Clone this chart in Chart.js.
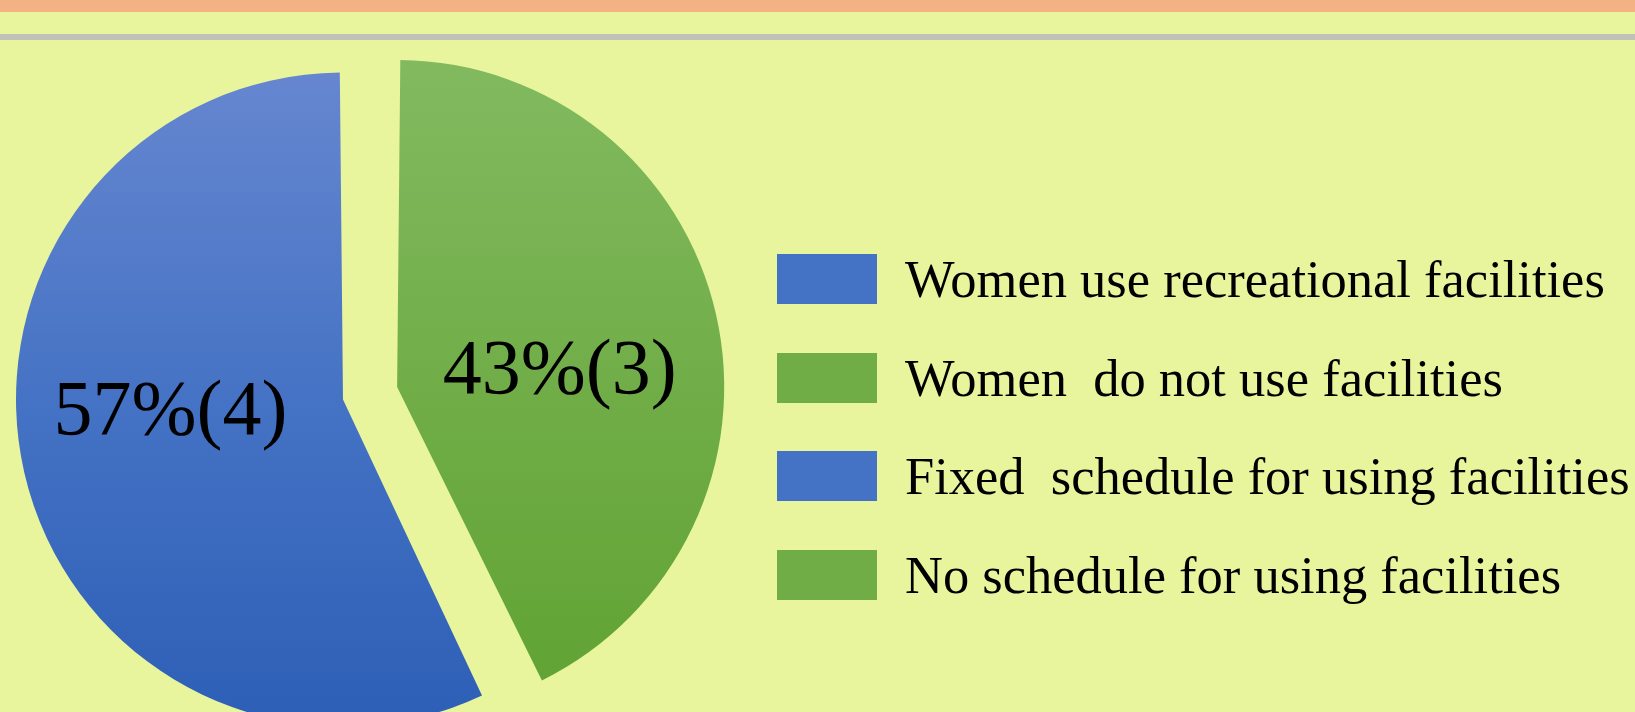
<!DOCTYPE html>
<html lang="en">
<head>
    <meta charset="UTF-8">
    <title>Women and recreational facilities</title>
    <script src="https://cdn.jsdelivr.net/npm/chart.js"></script>
    <style>
        html, body { margin: 0; padding: 0; }
        body { width: 1635px; height: 712px; overflow: hidden; position: relative; background: #E9F59D; font-family: "Liberation Serif", "Times New Roman", serif; }
        .stripe { position: absolute; left: 0; top: 0; width: 100%; height: 12px; background: #F4B183; }
        .rule { position: absolute; left: 0; top: 34px; width: 100%; height: 6px; background: #C0C1B9; }
        #wrap { position: absolute; left: 0; top: 0; width: 1635px; height: 712px; }
        #legend { position: absolute; left: 777px; top: 254px; }
        .row { display: flex; align-items: center; height: 50px; margin-bottom: 48.7px; }
        .swatch { width: 100px; height: 50px; flex: none; }
        .label { font-size: 52.5px; line-height: 52px; margin-left: 28px; color: #000; white-space: pre; }
    </style>
</head>
<body>
    <div class="stripe"></div>
    <div class="rule"></div>
    <div id="wrap"><canvas id="pie"></canvas></div>
    <div id="legend"></div>
    <script>
        // slices
        const categories = ['Women use recreational facilities', 'Women do not use facilities'];
        const counts = [4, 3];
        const percents = [57, 43];

        // legend entries (as on the slide)
        const legendLabels = ['Women use recreational facilities', 'Women  do not use facilities', 'Fixed  schedule for using facilities', 'No schedule for using facilities'];
        const legendColors = ['#4472C4', '#70AD47', '#4472C4', '#70AD47'];

        const gradStops = [
            ['#6787D0', '#4472C4', '#2B5DB5'],
            ['#83BA61', '#70AD47', '#5EA130']
        ];

        const total = counts.reduce((a, b) => a + b, 0);

        const legendEl = document.getElementById('legend');
        legendLabels.forEach((txt, i) => {
            const row = document.createElement('div');
            row.className = 'row';
            row.innerHTML = '<div class="swatch" style="background:' + legendColors[i] + '"></div><div class="label"></div>';
            row.querySelector('.label').textContent = txt;
            legendEl.appendChild(row);
        });

        const R = 307;

        function sliceFill(context) {
            const chart = context.chart;
            const area = chart.chartArea;
            if (!area) return legendColors[context.dataIndex];
            const cy = (area.top + area.bottom) / 2;
            const g = chart.ctx.createLinearGradient(0, cy - R - 30, 0, cy + R + 50);
            const s = gradStops[context.dataIndex];
            g.addColorStop(0, s[0]);
            g.addColorStop(0.5, s[1]);
            g.addColorStop(1, s[2]);
            return g;
        }

        const sliceLabels = {
            id: 'sliceLabels',
            afterDatasetsDraw(chart) {
                const ctx = chart.ctx;
                const meta = chart.getDatasetMeta(0);
                ctx.save();
                ctx.font = '78px "Liberation Serif", serif';
                ctx.fillStyle = '#000';
                ctx.textAlign = 'center';
                ctx.textBaseline = 'middle';
                meta.data.forEach((arc, i) => {
                    const p = arc.getProps(['x', 'y', 'startAngle', 'endAngle', 'outerRadius']);
                    const mid = (p.startAngle + p.endAngle) / 2;
                    const shift = (arc.options.offset || 0) / 4;
                    const cx = p.x + Math.cos(mid) * shift;
                    const cy = p.y + Math.sin(mid) * shift;
                    const lx = cx + Math.cos(mid) * p.outerRadius * 0.56 - 5;
                    const ly = cy + Math.sin(mid) * p.outerRadius * 0.21;
                    ctx.fillText(percents[i] + '%(' + counts[i] + ')', lx, ly);
                });
                ctx.restore();
            }
        };

        new Chart(document.getElementById('pie'), {
            type: 'pie',
            data: {
                labels: categories,
                datasets: [{
                    data: counts,
                    backgroundColor: sliceFill,
                    borderWidth: 0,
                    offset: [80, 142]
                }]
            },
            options: {
                responsive: true,
                maintainAspectRatio: false,
                animation: false,
                rotation: counts[1] / total * 360,
                radius: R,
                layout: { padding: { left: 0, right: 910, top: 78, bottom: 0 } },
                plugins: {
                    legend: { display: false },
                    tooltip: { enabled: false }
                },
                events: []
            },
            plugins: [sliceLabels]
        });
    </script>
</body>
</html>
